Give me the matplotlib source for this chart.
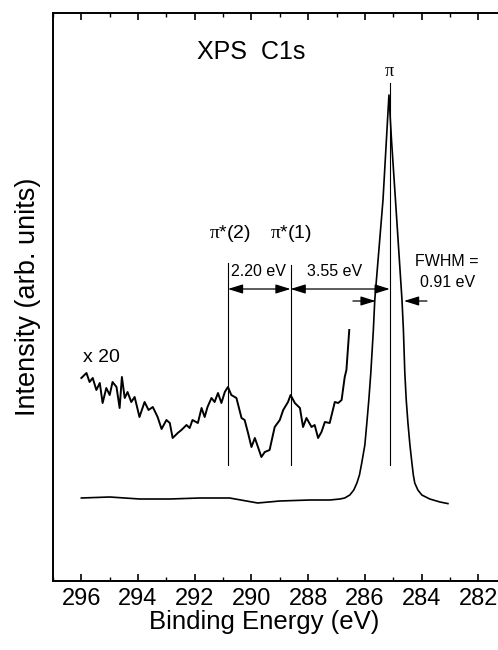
import matplotlib
matplotlib.use("Agg")
import matplotlib.pyplot as plt

plt.rcParams['font.family'] = ['Liberation Sans', 'DejaVu Sans']
plt.rcParams['mathtext.fontset'] = 'custom'
plt.rcParams['mathtext.rm'] = 'Liberation Sans'
plt.rcParams['mathtext.it'] = 'Liberation Serif'

# Main C1s spectrum (binding energy eV, intensity arb.)
main_be = [296.00, 295.00, 293.94, 292.88, 291.82, 290.77, 289.78, 289.00, 287.94,
           287.23, 286.88, 286.71, 286.53, 286.39, 286.28, 286.19, 286.11, 286.00,
           285.93, 285.86, 285.79, 285.70, 285.65, 285.36, 285.24, 285.15,
           285.06, 284.92, 284.69, 284.64, 284.59, 284.54, 284.48, 284.41, 284.34,
           284.29, 284.24, 284.13, 283.99, 283.71, 283.35, 283.07]
main_int = [0.5, 0.75, 0.25, 0.25, 0.5, 0.5, -0.75, -0.25, 0.0,
            0.0, 0.25, 0.5, 1.25, 2.5, 4.25, 6.25, 9.25, 13.75,
            19.25, 25.0, 31.75, 42.5, 50.0, 75.0, 90.0, 101.25,
            90.0, 75.0, 50.0, 42.5, 31.75, 25.0, 19.25, 13.75, 9.25,
            6.25, 4.25, 2.5, 1.25, 0.25, -0.5, -0.9]

# x20 magnified spectrum
x20_be = [296.00, 295.82, 295.71, 295.60, 295.47, 295.35, 295.25, 295.12, 295.00, 294.90,
          294.76, 294.65, 294.57, 294.47, 294.37, 294.24, 294.12, 293.95, 293.77, 293.63,
          293.48, 293.31, 293.17, 293.00, 292.88, 292.78, 292.60, 292.47, 292.29, 292.18,
          292.08, 291.89, 291.76, 291.65, 291.55, 291.41, 291.30, 291.18, 291.06, 290.94,
          290.83, 290.71, 290.53, 290.35, 290.24, 290.12, 290.00, 289.88, 289.77, 289.65,
          289.53, 289.36, 289.18, 289.00, 288.88, 288.71, 288.62, 288.47, 288.29, 288.18,
          288.06, 287.88, 287.77, 287.65, 287.53, 287.41, 287.24, 287.06, 286.94, 286.82,
          286.71, 286.65, 286.55]
x20_int = [30.5, 31.75, 29.5, 30.5, 27.5, 29.25, 24.25, 28.0, 26.25, 29.5,
           28.25, 23.0, 30.75, 25.5, 27.0, 24.5, 25.75, 20.75, 24.5, 22.5,
           23.25, 20.75, 17.75, 20.0, 19.25, 15.5, 16.75, 17.5, 18.75, 18.0,
           20.0, 19.25, 23.0, 20.75, 23.25, 25.5, 24.5, 26.75, 24.25, 27.0,
           28.25, 26.25, 25.5, 20.5, 20.0, 16.75, 13.25, 15.5, 13.25, 10.75,
           12.0, 12.5, 18.25, 20.0, 22.5, 24.5, 26.25, 24.25, 23.0, 18.25,
           20.5, 18.25, 18.75, 15.5, 17.0, 19.5, 19.25, 24.5, 24.25, 25.0,
           30.75, 32.5, 42.5]

# Peak positions (eV)
pi_pos = 285.12
pistar1_pos = 288.62
pistar2_pos = 290.83
xticks_major = [296, 294, 292, 290, 288, 286, 284, 282]

fig = plt.figure(figsize=(4.98, 6.5), dpi=100)
ax = fig.add_axes([53/498, 69/650, 453.6/498, 568/650])

ax.plot(main_be, main_int, color='black', lw=1.2)
ax.plot(x20_be, x20_int, color='black', lw=1.4)

# vertical marker lines
ax.plot([pi_pos, pi_pos], [8.75, 104.25], color='black', lw=0.8)
ax.plot([pistar1_pos, pistar1_pos], [8.75, 58.75], color='black', lw=0.8)
ax.plot([pistar2_pos, pistar2_pos], [8.75, 59.25], color='black', lw=0.8)

arr = dict(arrowstyle='<|-|>,head_length=0.9,head_width=0.28', color='black',
           lw=0.9, shrinkA=0, shrinkB=0, mutation_scale=10)
ax.annotate('', xy=(pistar1_pos, 52.75), xytext=(pistar2_pos, 52.75), arrowprops=arr)
ax.annotate('', xy=(pi_pos, 52.75), xytext=(pistar1_pos, 52.75), arrowprops=arr)
arr1 = dict(arrowstyle='-|>,head_length=0.9,head_width=0.28', color='black',
            lw=0.9, shrinkA=0, shrinkB=0, mutation_scale=10)
ax.annotate('', xy=(285.62, 49.75), xytext=(286.42, 49.75), arrowprops=arr1)
ax.annotate('', xy=(284.62, 49.75), xytext=(283.81, 49.75), arrowprops=arr1)

# texts
ax.text(290.0, 112, 'XPS  C1s', fontsize=18, ha='center', va='center')
ax.text(pi_pos, 107, r'$\pi$', fontsize=13, ha='center', va='center')
ax.text(295.95, 35.75, 'x 20', fontsize=14, ha='left', va='center')
ax.text(290.76, 66.75, r'$\pi$*(2)', fontsize=14, ha='center', va='center')
ax.text(288.6, 66.75, r'$\pi$*(1)', fontsize=14, ha='center', va='center')
ax.text(290.71, 57, '2.20 eV', fontsize=11.5, ha='left', va='center')
ax.text(287.06, 57, '3.55 eV', fontsize=11.5, ha='center', va='center')
ax.text(284.24, 59.75, 'FWHM =', fontsize=11.5, ha='left', va='center')
ax.text(284.06, 54.3, '0.91 eV', fontsize=11.5, ha='left', va='center')

ax.set_xlim(297, 281)
ax.set_ylim(-20.25, 121.75)
ax.set_xticks(xticks_major)
ax.set_xticks(range(281, 298), minor=True)
ax.set_yticks([])
ax.tick_params(axis='x', which='both', direction='in', top=True, bottom=True,
               labelsize=17, pad=5)
ax.tick_params(axis='x', which='major', length=5, width=1.2)
ax.tick_params(axis='x', which='minor', length=3, width=1.0)
for s in ax.spines.values():
    s.set_linewidth(1.4)

ax.set_xlabel('Binding Energy (eV)', fontsize=18.5)
ax.xaxis.set_label_coords(0.466, -0.051)
ax.set_ylabel('Intensity (arb. units)', fontsize=19.5)
ax.yaxis.set_label_coords(-0.027, 0.5)

fig.savefig('out.png', dpi=100)
